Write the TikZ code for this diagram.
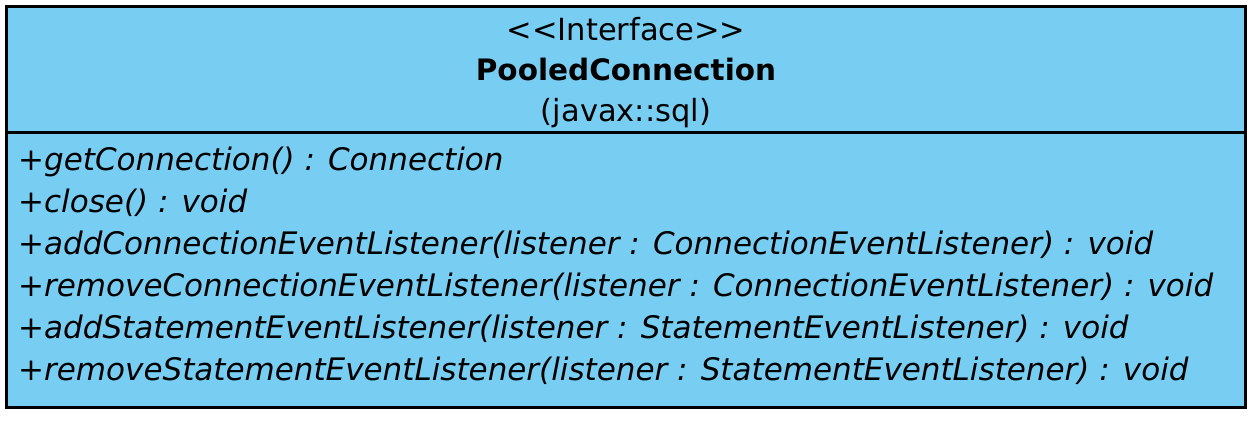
\documentclass[tikz,border=0pt]{standalone}
\usepackage{fontspec}
\setmainfont{DejaVu Sans}
\definecolor{ifaceblue}{RGB}{120,206,242}
\tikzset{
  classbox/.style={draw=black,line width=3pt,fill=ifaceblue},
  headtext/.style={anchor=base,inner sep=0pt,font=\fontsize{30.5}{34}\selectfont},
  optext/.style={anchor=base west,inner sep=0pt,font=\fontsize{31}{36}\selectfont\itshape}
}
\begin{document}
\begin{tikzpicture}[x=1pt,y=1pt]
\useasboundingbox (0,0) rectangle (1257,-420);
\draw[classbox] (6.5,-6.5) rectangle (1245.5,-407.5);
\draw[line width=3pt] (6.5,-132.5) -- (1245.5,-132.5);

\node[headtext] (stereo) at (626,-41) {<{}<Interface>{}>};
\node[headtext,font=\fontsize{29.5}{34}\selectfont\bfseries] (name) at (626,-81) {PooledConnection};
\node[headtext] (pkg) at (626,-121) {(javax::sql)};

\node[optext] (op1) at (18,-170) {+getConnection() : Connection};
\node[optext] (op2) at (18,-212) {+close() : void};
\node[optext] (op3) at (18,-254) {+addConnectionEventListener(listener : ConnectionEventListener) : void};
\node[optext] (op4) at (18,-296) {+removeConnectionEventListener(listener : ConnectionEventListener) : void};
\node[optext] (op5) at (18,-338) {+addStatementEventListener(listener : StatementEventListener) : void};
\node[optext] (op6) at (18,-380) {+removeStatementEventListener(listener : StatementEventListener) : void};
\end{tikzpicture}
\end{document}
